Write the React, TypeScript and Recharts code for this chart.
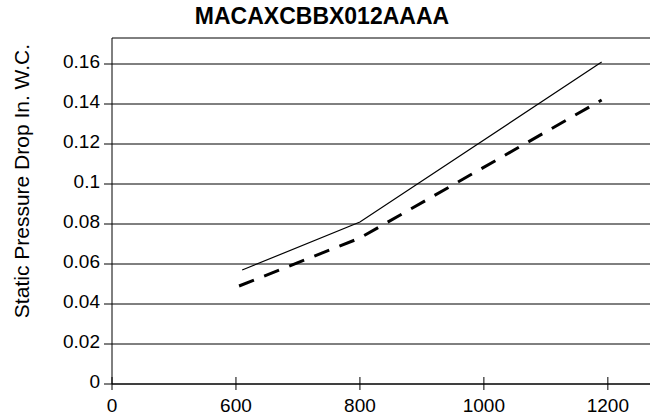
// Static pressure drop vs airflow for MACAXCBBX012AAAA
import { LineChart, Line, XAxis, YAxis, CartesianGrid } from 'recharts'

const X_TICKS = [0, 600, 800, 1000, 1200]
const Y_TICKS = [0, 0.02, 0.04, 0.06, 0.08, 0.1, 0.12, 0.14, 0.16]

// solid curve
const solidAirflow = [610, 800, 1190]
const solidPressure = [0.057, 0.081, 0.161]

// dashed curve
const dashedAirflow = [605, 800, 1190]
const dashedPressure = [0.049, 0.073, 0.142]

const FONT = '"Liberation Sans", Arial, sans-serif'

// the x axis spaces its labels evenly, so place each airflow value on the tick slots
function toSlot(cfm: number): number {
  for (let i = 0; i < X_TICKS.length - 1; i++) {
    const a = X_TICKS[i]
    const b = X_TICKS[i + 1]
    if (cfm <= b) return i + (cfm - a) / (b - a)
  }
  const n = X_TICKS.length - 1
  return n + (cfm - X_TICKS[n]) / (X_TICKS[n] - X_TICKS[n - 1])
}

const solidData = solidAirflow.map((cfm, i) => ({ slot: toSlot(cfm), value: solidPressure[i] }))
const dashedData = dashedAirflow.map((cfm, i) => ({ slot: toSlot(cfm), value: dashedPressure[i] }))

function XTick({ x, y, payload }: { x?: number; y?: number; payload?: { value: number } }) {
  const idx = payload?.value ?? 0
  return (
    <g>
      <line x1={x} x2={x} y1={(y ?? 0) - 7} y2={(y ?? 0) + 6} stroke="#000" strokeWidth={1} />
      <text x={x} y={(y ?? 0) + 28} textAnchor="middle" fontSize={19} fontFamily={FONT} fill="#000">
        {X_TICKS[idx]}
      </text>
    </g>
  )
}

function YTick({ x, y, payload }: { x?: number; y?: number; payload?: { value: number } }) {
  return (
    <text x={x} y={y} dy={4} textAnchor="end" fontSize={19} fontFamily={FONT} fill="#000">
      {String(payload?.value)}
    </text>
  )
}

export default function App() {
  return (
    <div style={{ position: 'absolute', left: 0, top: 0, width: 650, height: 419, background: '#fff', overflow: 'hidden' }}>
      <div
        style={{
          position: 'absolute', left: 0, top: 3, width: 650, textAlign: 'center',
          fontFamily: FONT, fontWeight: 'bold', fontSize: 23, color: '#000',
        }}
      >
        <span style={{ marginLeft: -6 }}>MACAXCBBX012AAAA</span>
      </div>
      <div style={{ position: 'absolute', left: 22, top: 181, width: 0, height: 0 }}>
        <div
          style={{
            position: 'absolute', transform: 'translate(-50%, -50%) rotate(-90deg)', whiteSpace: 'nowrap',
            fontFamily: FONT, fontSize: 21, color: '#000',
          }}
        >
          Static Pressure Drop In. W.C.
        </div>
      </div>
      <LineChart width={650} height={419} margin={{ top: 38, right: 0, bottom: 0, left: 0 }}>
        <CartesianGrid vertical={false} stroke="#000" strokeWidth={1} />
        <XAxis
          type="number"
          dataKey="slot"
          domain={[0, 4.34]}
          ticks={[0, 1, 2, 3, 4]}
          allowDataOverflow
          height={35}
          tickSize={0}
          tickMargin={0}
          tickLine={false}
          axisLine={{ stroke: '#000' }}
          tick={<XTick />}
        />
        <YAxis
          type="number"
          domain={[0, 0.173]}
          ticks={Y_TICKS}
          allowDataOverflow
          width={112}
          tickSize={8}
          tickMargin={4}
          tickLine={{ stroke: '#000' }}
          axisLine={{ stroke: '#000' }}
          tick={<YTick />}
        />
        <Line
          data={solidData}
          dataKey="value"
          type="linear"
          stroke="#000"
          strokeWidth={1.2}
          dot={false}
          isAnimationActive={false}
        />
        <Line
          data={dashedData}
          dataKey="value"
          type="linear"
          stroke="#000"
          strokeWidth={3}
          strokeDasharray="16 11"
          dot={false}
          isAnimationActive={false}
        />
      </LineChart>
    </div>
  )
}
